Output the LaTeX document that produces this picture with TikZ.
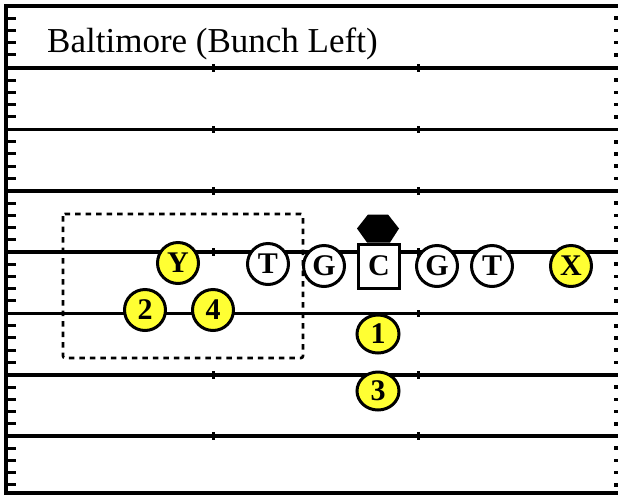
\documentclass[tikz,border=0pt]{standalone}
\usepackage{fontspec}
\setmainfont{Liberation Serif}
\usetikzlibrary{shapes.geometric}
\definecolor{pyellow}{RGB}{255,255,51}
\tikzset{
  fieldline/.style={line width=3.4pt},
  ticks/.style={line width=3pt},
  player/.style={circle, draw, line width=3pt, fill=white, minimum size=41pt, inner sep=0pt, font=\fontsize{30}{30}\selectfont\bfseries},
  skill/.style={player, fill=pyellow},
  back/.style={ellipse, draw, line width=3pt, fill=pyellow, minimum width=42pt, minimum height=38pt, inner sep=0pt, font=\fontsize{30}{30}\selectfont\bfseries},
  center/.style={rectangle, draw, line width=3pt, fill=white, minimum width=41pt, minimum height=44pt, inner sep=0pt, font=\fontsize{30}{30}\selectfont\bfseries},
  zone/.style={draw, line width=2.6pt, dash pattern=on 5.5pt off 5pt, rounded corners=2pt},
}
\begin{document}
\begin{tikzpicture}[x=1pt,y=-1pt]
\useasboundingbox (0,0) rectangle (618,496);
% field lines
\foreach \y in {68,129.5,191,252,313.5,375,436} {
  \draw[fieldline] (6,\y) -- (618,\y);
  \foreach \x in {213,418} \fill (\x-1.5,\y-3.8) rectangle (\x+1.5,\y+3.8);
}
\draw[fieldline] (618,6) -- (6,6) -- (6,493) -- (618,493);
% side ticks
\foreach \y in {6,68,129.5,191,252,313.5,375,436} {
  \foreach \k in {1,2,3,4} {
    \draw[ticks] (6,\y+12.2*\k) -- (15.5,\y+12.2*\k);
    \fill (614,\y+12.2*\k-1.8) rectangle (618,\y+12.2*\k+1.8);
  }
}
% title
\node[anchor=base west, inner sep=0pt, font=\fontsize{35}{35}\selectfont] (title) at (47,52) {Baltimore (Bunch Left)};
% zone box
\draw[zone] (63,214) rectangle (303,358);
% players
\node[skill] (Y) at (178,263) {Y};
\node[player] (T1) at (268,264) {T};
\node[player] (G1) at (324,266) {G};
\node[center] (C) at (379,266) {C};
\node[player] (G2) at (437,266) {G};
\node[player] (T2) at (492,266) {T};
\node[skill] (X) at (571,266) {X};
\node[skill] (P2) at (145,310) {2};
\node[skill] (P4) at (213,310) {4};
\node[back] (P1) at (378,334) {1};
\node[back] (P3) at (378,391) {3};
% defender (nose) marker
\fill ([xshift=-12pt]C.north) -- ([xshift=11pt]C.north) -- ([xshift=20pt,yshift=14pt]C.north) -- ([xshift=9pt,yshift=28pt]C.north) -- ([xshift=-11pt,yshift=28pt]C.north) -- ([xshift=-22pt,yshift=14pt]C.north) -- cycle;
\end{tikzpicture}
\end{document}
